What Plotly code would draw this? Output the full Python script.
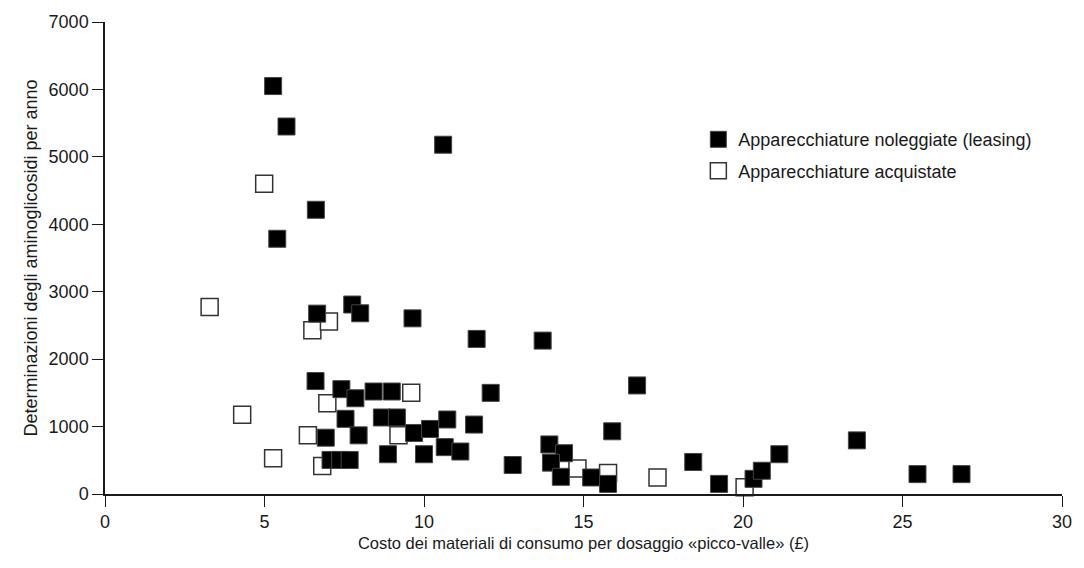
import plotly.graph_objects as go

# Leased analysers: cost per peak/trough assay (£) vs. aminoglycoside assays per year
leased_cost = [5.27, 5.69, 10.6, 6.61, 5.4, 7.75, 6.65, 8.0, 9.64, 11.65, 13.72, 16.68,
               6.6, 7.41, 7.85, 8.42, 8.99, 12.09, 7.54, 8.68, 9.15, 6.92, 7.95, 9.69,
               10.19, 10.73, 11.57, 10.65, 11.14, 8.87, 10.0, 7.07, 7.37, 7.67, 12.78,
               15.9, 13.93, 14.39, 13.98, 14.29, 15.24, 15.77, 18.44, 19.25, 20.33,
               20.59, 21.14, 23.57, 25.47, 26.85]
leased_assays = [6050, 5450, 5180, 4215, 3785, 2810, 2675, 2680, 2605, 2300, 2275, 1610,
                 1675, 1555, 1420, 1520, 1520, 1500, 1115, 1135, 1135, 835, 870, 905,
                 965, 1105, 1030, 695, 630, 590, 590, 505, 505, 505, 430,
                 930, 735, 605, 465, 255, 245, 150, 475, 150, 225,
                 345, 590, 795, 295, 295]

# Purchased analysers
bought_cost = [3.28, 4.99, 6.5, 7.02, 6.97, 9.6, 4.3, 6.36, 9.2, 5.27, 6.81,
               14.81, 15.77, 17.32, 20.05]
bought_assays = [2775, 4600, 2430, 2560, 1345, 1500, 1175, 870, 870, 530, 415,
                 380, 310, 245, 100]

# Axis extents and tick spacing
x_range = [0, 30]
x_step = 5
y_range = [0, 7000]
y_step = 1000

ink = "#1a1a1a"

fig = go.Figure()
fig.add_trace(go.Scatter(
    x=bought_cost, y=bought_assays, mode="markers",
    name="Apparecchiature acquistate", legendrank=2, legendgroup="b",
    marker=dict(symbol="square", size=17, color="white",
                line=dict(color="#333333", width=1.5)),
    cliponaxis=False,
))
fig.add_trace(go.Scatter(
    x=leased_cost, y=leased_assays, mode="markers",
    name="Apparecchiature noleggiate (leasing)", legendrank=1, legendgroup="a",
    marker=dict(symbol="square", size=17, color="black",
                line=dict(color="#444444", width=1)),
    cliponaxis=False,
))

fig.update_layout(
    width=1084, height=568,
    margin=dict(l=105, r=16, t=16, b=74),
    paper_bgcolor="white", plot_bgcolor="white",
    font=dict(family="Liberation Sans", size=18, color=ink),
    showlegend=True,
    legend=dict(x=0.62, y=0.79, xanchor="left", yanchor="top",
                font_size=18, traceorder="grouped", tracegroupgap=5,
                bgcolor="rgba(0,0,0,0)", itemwidth=30),
)
fig.update_xaxes(
    range=x_range, tickmode="linear", tick0=0, dtick=x_step,
    tickfont=dict(size=18, color=ink),
    showgrid=False, zeroline=False, showline=True, linecolor=ink, linewidth=1.5,
    ticks="outside", ticklen=11, tickwidth=1.2, tickcolor=ink,
    title_text="Costo dei materiali di consumo per dosaggio «picco-valle» (£)",
    title_standoff=6, title_font_size=16.5,
)
fig.update_yaxes(
    range=y_range, tickmode="linear", tick0=0, dtick=y_step,
    tickfont=dict(size=18, color=ink),
    showgrid=False, zeroline=False, showline=True, linecolor=ink, linewidth=1.5,
    ticks="outside", ticklen=11, tickwidth=1.2, tickcolor=ink,
    title_text="Determinazioni degli aminoglicosidi per anno",
    title_standoff=6, title_font_size=18,
)

fig.write_html("out.html")
